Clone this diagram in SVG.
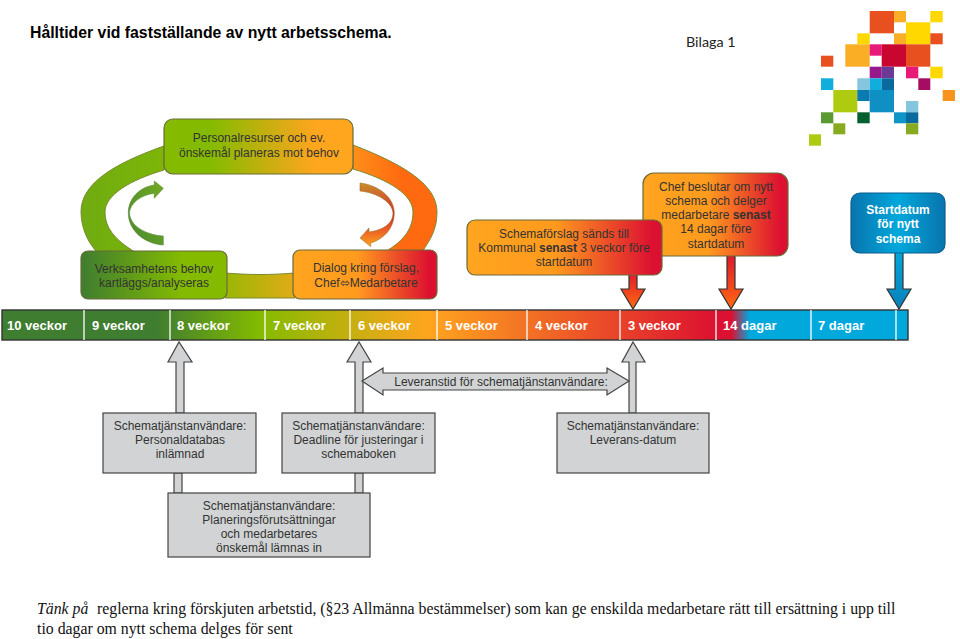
<svg xmlns="http://www.w3.org/2000/svg" width="960" height="639" viewBox="0 0 960 639">
<style>
text{font-family:"Liberation Sans",Arial,sans-serif;font-size:12px;fill:#333;text-anchor:middle}
.wk{font-weight:bold;font-size:13px;fill:#fff;text-anchor:start}
.w{font-weight:bold;fill:#fff;font-size:12px}
.g{fill:#d1d3d4;stroke:#444;stroke-width:1.2}
.b{stroke:#6b6b3a;stroke-width:1.2}
.sep{stroke:#fff;stroke-width:1.3}
.ser{text-anchor:start;font-family:"Liberation Serif",serif;font-size:15.8px;fill:#111}
.so{fill:#e8501f}.am{fill:#f9ae25}.ye{fill:#ffd800}.pi{fill:#e81a78}.cr{fill:#c8062f}.cy{fill:#10aedc}.lb{fill:#85c6de}.db{fill:#0a6a9e}.li{fill:#aecb10}.ol{fill:#88aa20}
</style>
<defs>
<linearGradient id="ring" gradientUnits="userSpaceOnUse" x1="81" y1="0" x2="437" y2="0"><stop offset="0" stop-color="#6fab12"/><stop offset=".35" stop-color="#84bb00"/><stop offset=".68" stop-color="#ffa51e"/><stop offset=".9" stop-color="#ff6a10"/></linearGradient>
<linearGradient id="top"><stop offset="0" stop-color="#84bb00"/><stop offset=".25" stop-color="#84bb00"/><stop offset=".8" stop-color="#ffa51e"/><stop offset="1" stop-color="#ffa51e"/></linearGradient>
<linearGradient id="gl"><stop offset="0" stop-color="#3f7d30"/><stop offset=".7" stop-color="#84bb00"/><stop offset="1" stop-color="#84bb00"/></linearGradient>
<linearGradient id="or"><stop offset="0" stop-color="#ffa51e"/><stop offset=".45" stop-color="#ff9a1e"/><stop offset=".95" stop-color="#dc1030"/></linearGradient>
<linearGradient id="bl"><stop offset="0" stop-color="#0a74ad"/><stop offset=".5" stop-color="#00a8dc"/><stop offset="1" stop-color="#0a74ad"/></linearGradient>
<linearGradient id="line" gradientUnits="userSpaceOnUse" x1="2" y1="0" x2="908" y2="0"><stop offset="0" stop-color="#3f7d30"/><stop offset=".17" stop-color="#3f7d30"/><stop offset=".285" stop-color="#84bb00"/><stop offset=".47" stop-color="#ffa51e"/><stop offset=".79" stop-color="#dc1030"/><stop offset=".805" stop-color="#dc1030"/><stop offset=".825" stop-color="#00a8dc"/><stop offset="1" stop-color="#00a8dc"/></linearGradient>
<linearGradient id="dn" x1="0" y1="0" x2="0" y2="1"><stop offset="0" stop-color="#dc1030"/><stop offset="1" stop-color="#ff6a10"/></linearGradient>
<linearGradient id="dnb" x1="0" y1="0" x2="0" y2="1"><stop offset="0" stop-color="#00a8dc"/><stop offset="1" stop-color="#0a80b8"/></linearGradient>
<linearGradient id="ca" x1="1" y1="0" x2="0" y2="1"><stop offset="0" stop-color="#72aa20"/><stop offset="1" stop-color="#4a8a30"/></linearGradient>
<linearGradient id="cb" x1="0" y1="0" x2="0" y2="1"><stop offset="0" stop-color="#c8902a"/><stop offset=".5" stop-color="#d8202c"/><stop offset="1" stop-color="#ffa51e"/></linearGradient>
</defs>
<text x="30" y="38" style="text-anchor:start;font-weight:bold;font-size:15.8px;fill:#000">Hålltider vid fastställande av nytt arbetsschema.</text>
<text x="686" y="47" style="text-anchor:start;font-family:Lato,sans-serif;font-size:14.300px;fill:#222">Bilaga 1</text>
<g id="logo">
<rect class="so" x="869.7" y="11" width="24.3" height="22.3"/><rect class="am" x="894" y="11" width="12" height="11.3"/><rect class="ye" x="930.3" y="11" width="12.4" height="11.3"/>
<rect class="ye" x="906" y="22.3" width="24.3" height="22"/><rect class="am" x="894" y="33.3" width="12" height="11"/><rect class="so" x="930.3" y="33.3" width="12.4" height="11"/><rect class="ye" x="857.3" y="33.3" width="12.4" height="11"/>
<rect class="am" x="845.3" y="44.3" width="24.4" height="22.4"/><rect class="pi" x="869.7" y="44.3" width="12" height="11.4"/><rect class="cr" x="881.7" y="44.3" width="24.3" height="22.4"/><rect class="so" x="906" y="44.3" width="24.3" height="22.4"/><rect class="so" x="821" y="55.7" width="12.3" height="11"/>
<rect fill="#96188a" x="869.7" y="66.7" width="12" height="11.6"/><rect fill="#6a3a96" x="881.7" y="66.7" width="12.3" height="11.6"/><rect class="pi" x="906" y="66.7" width="12.3" height="11.6"/><rect class="ye" x="930.3" y="66.7" width="12.4" height="11.6"/>
<rect fill="#a60d62" x="918.3" y="78.3" width="12" height="11.7"/><rect class="cy" x="821" y="78.3" width="12.3" height="11.7"/><rect class="lb" x="857.3" y="78.3" width="12.4" height="11.7"/><rect class="cy" x="869.7" y="78.3" width="12" height="11.7"/><rect class="db" x="881.7" y="78.3" width="12.3" height="11.7"/>
<rect fill="#f7941d" x="942.7" y="90" width="12.3" height="11"/><rect class="li" x="833.3" y="90" width="24" height="22.3"/><rect fill="#0a7ab0" x="857.3" y="90" width="12.4" height="11"/><rect fill="#0e90c4" x="869.7" y="90" width="24.3" height="22.3"/>
<rect class="lb" x="906" y="101" width="12.3" height="11.3"/><rect fill="#5a9a30" x="821" y="112.3" width="12.3" height="11"/><rect fill="#056030" x="857.3" y="112.3" width="12.4" height="11"/><rect fill="#1095c8" x="894" y="112.3" width="12" height="11"/><rect class="db" x="906" y="112.3" width="12.3" height="11"/>
<rect class="ol" x="833.3" y="123.3" width="12" height="11"/><rect class="ol" x="906" y="123.3" width="12.3" height="11"/><rect class="li" x="809" y="134.3" width="12" height="11.4"/>
</g>
<g id="connectors">
<g id="ring-arc" fill="url(#ring)" stroke="#7a8a30" stroke-width="1">
<path d="M164,146 C110,165 81,185 81,212 C81,230 90,245 97,252 L135,252 C115,240 105,228 105,212 C105,195 130,180 164,170 Z"/>
<path d="M353,145 C405,165 437,185 437,212 C437,230 430,240 422,252 L385,252 C405,240 413,228 413,212 C413,195 390,180 353,169 Z"/>
<path d="M225,273 C250,275 270,275 295,273 L295,298 L225,298 Z"/>
</g>
<path id="curve-left" fill="url(#ca)" stroke="#5d8a3a" stroke-width=".6" d="M163.300,188.300 L154.300,181 L154.300,185 C140,187 128.300,198 128.300,213 C128.300,231 145,244 163.300,245 L163.300,236 C146,235 130,226 129.500,213 C130,204 140,195 154.300,193.300 L154.300,198.300 Z"/>
<path id="curve-right" fill="url(#cb)" stroke="#9a7a30" stroke-width=".6" d="M360,183 C378,185 394.300,197 394.300,213 C394.300,228 384,239 370.700,243 L370.700,246.700 L360,238 L369,228 L369,232 C384,230 393,223 393,213 C392,202 378,193 360,191 Z"/>
<g stroke="#333" stroke-width="1.2">
<path fill="url(#dn)" d="M629,268 H637 V289 H645 L633,309 L621,289 H629 Z"/>
<path fill="url(#dn)" d="M727,250 H735 V289 H743 L731,309 L719,289 H727 Z"/>
<path fill="url(#dnb)" d="M895,250 H903 V289 H911 L899,309 L887,289 H895 Z"/>
</g>
<path class="g" d="M176,413 V362 H168 L179,342 L192,362 H184 V413 Z"/>
<path class="g" d="M355,413 V362 H347 L359,342 L371,362 H363 V413 Z"/>
<path class="g" d="M629,413 V362 H622 L633,342 L645,362 H636 V413 Z"/>
<path class="g" d="M174,473 H182 V493 H174 Z"/>
<path class="g" d="M355,473 H363 V493 H355 Z"/>
<g id="leveranstid"><path class="g" d="M362,381 L383,368 V373 H607 V368 L629,381 L607,395 V390 H383 V395 Z"/><text x="501" y="386">Leveranstid för schematjänstanvändare:</text></g>
</g>
<g id="n-top"><rect class="b" x="164" y="119" width="189" height="55" rx="9" fill="url(#top)"/><text x="259" y="142">Personalresurser och ev.</text><text x="259" y="157">önskemål planeras mot behov</text></g>
<g id="n-left"><rect class="b" x="81" y="251" width="146" height="48" rx="7" fill="url(#gl)"/><text x="154" y="273">Verksamhetens behov</text><text x="154" y="287">kartläggs/analyseras</text></g>
<g id="n-right"><rect class="b" x="293" y="250" width="144" height="49" rx="7" fill="url(#or)"/><text x="366" y="272">Dialog kring förslag,</text><text x="366" y="287">Chef⬄Medarbetare</text></g>
<g id="n-chef"><rect class="b" x="643" y="173" width="145" height="83" rx="11" fill="url(#or)"/><text x="716" y="191">Chef beslutar om nytt</text><text x="716" y="205">schema och delger</text><text x="716" y="219">medarbetare <tspan font-weight="bold">senast</tspan></text><text x="716" y="233">14 dagar före</text><text x="716" y="248">startdatum</text></g>
<g id="n-schema"><rect class="b" x="467" y="220" width="195" height="55" rx="8" fill="url(#or)"/><text x="564" y="238">Schemaförslag sänds till</text><text x="564" y="252">Kommunal <tspan font-weight="bold">senast</tspan> 3 veckor före</text><text x="564" y="266">startdatum</text></g>
<g id="n-start"><rect x="851" y="193" width="94" height="60" rx="9" fill="url(#bl)" stroke="#0a5f8f" stroke-width="1.2"/><text class="w" x="898" y="214">Startdatum</text><text class="w" x="898" y="228">för nytt</text><text class="w" x="898" y="243">schema</text></g>
<g id="timeline">
<rect x="2" y="310" width="906" height="30" fill="url(#line)" stroke="#333" stroke-width="1.4"/>
<path class="sep" d="M84,310V340M170,310V340M265,310V340M350,310V340M437,310V340M527,310V340M620,310V340M716,310V340M811,310V340M896,310V340"/>
<text class="wk" x="7" y="330">10 veckor</text><text class="wk" x="92" y="330">9 veckor</text><text class="wk" x="177" y="330">8 veckor</text><text class="wk" x="273" y="330">7 veckor</text><text class="wk" x="358" y="330">6 veckor</text><text class="wk" x="445" y="330">5 veckor</text><text class="wk" x="535" y="330">4 veckor</text><text class="wk" x="628" y="330">3 veckor</text><text class="wk" x="723" y="330">14 dagar</text><text class="wk" x="818" y="330">7 dagar</text>
</g>
<g id="n-personal"><rect class="g" x="103" y="413" width="153" height="60"/><text x="180" y="430">Schematjänstanvändare:</text><text x="180" y="444">Personaldatabas</text><text x="180" y="458">inlämnad</text></g>
<g id="n-deadline"><rect class="g" x="282" y="413" width="153" height="60"/><text x="358.500" y="430">Schematjänstanvändare:</text><text x="358.500" y="444">Deadline för justeringar i</text><text x="358.500" y="458">schemaboken</text></g>
<g id="n-leverans"><rect class="g" x="557" y="413" width="152" height="60"/><text x="633" y="430">Schematjänstanvändare:</text><text x="633" y="444">Leverans-datum</text></g>
<g id="n-plan"><rect class="g" x="168" y="493" width="202" height="64"/><text x="269" y="510">Schematjänstanvändare:</text><text x="269" y="524">Planeringsförutsättningar</text><text x="269" y="538">och medarbetares</text><text x="269" y="552">önskemål lämnas in</text></g>
<text class="ser" x="37" y="614" font-style="italic">Tänk på</text>
<text class="ser" x="97" y="614">reglerna kring förskjuten arbetstid, (§23 Allmänna bestämmelser) som kan ge enskilda medarbetare rätt till ersättning i upp till</text>
<text class="ser" x="37" y="634">tio dagar om nytt schema delges för sent</text>
</svg>
